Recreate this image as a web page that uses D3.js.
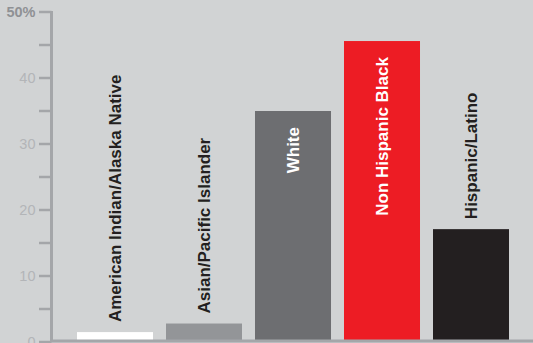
<!DOCTYPE html>
<html>
<head>
<meta charset="utf-8">
<script src="https://cdn.jsdelivr.net/npm/d3@7"></script>
<style>
  html, body { margin: 0; padding: 0; background: #d1d3d4; }
  svg { display: block; font-family: "Liberation Sans", Arial, Helvetica, sans-serif; }
</style>
</head>
<body>
<div id="chart"></div>
<script>
// data
const groups = ['American Indian/Alaska Native', 'Asian/Pacific Islander', 'White', 'Non Hispanic Black', 'Hispanic/Latino'];
const values = [1.5, 2.8, 35.0, 45.6, 17.1];
const colors = ['#ffffff', '#939598', '#6d6e71', '#ed1c24', '#231f20'];
const majorTicks = [0, 10, 20, 30, 40, 50];
const minorTicks = [5, 15, 25, 35, 45];

const width = 533;
const height = 343;

const data = groups.map((g, i) => ({ id: g, val: values[i], color: colors[i] }));

const svg = d3.select('#chart')
  .append('svg')
  .attr('width', width)
  .attr('height', height);

svg.append('rect')
  .attr('width', width)
  .attr('height', height)
  .attr('fill', '#d1d3d4');

const xScale = d3.scaleBand()
  .domain(groups)
  .range([64, 522])
  .padding(0.146);

const yScale = d3.scaleLinear()
  .domain([0, 50])
  .range([342, 12]);

// bars
svg.selectAll('rect.bar')
  .data(data)
  .join('rect')
  .attr('class', 'bar')
  .attr('x', d => xScale(d.id))
  .attr('y', d => yScale(d.val))
  .attr('width', xScale.bandwidth())
  .attr('height', d => yScale(0) - yScale(d.val))
  .attr('fill', d => d.color);

// y axis
const axisX = 51.5;
const yAxis = svg.append('g').attr('class', 'axis y');

yAxis.selectAll('line.tick')
  .data(majorTicks.concat(minorTicks))
  .join('line')
  .attr('class', 'tick')
  .attr('x1', 39)
  .attr('x2', axisX)
  .attr('y1', d => yScale(d))
  .attr('y2', d => yScale(d))
  .attr('stroke', '#a4a6a9')
  .attr('stroke-width', 2.5);

yAxis.append('line')
  .attr('x1', axisX)
  .attr('x2', axisX)
  .attr('y1', yScale(50) - 1)
  .attr('y2', yScale(0))
  .attr('stroke', '#a4a6a9')
  .attr('stroke-width', 3);

yAxis.selectAll('text')
  .data(majorTicks)
  .join('text')
  .attr('x', 35.5)
  .attr('y', d => yScale(d))
  .attr('dy', '0.36em')
  .attr('text-anchor', 'end')
  .attr('font-size', 14.5)
  .attr('font-weight', d => d === 50 ? 'bold' : 'normal')
  .attr('fill', d => d === 50 ? '#8f9194' : '#b3b5b8')
  .text(d => d === 50 ? d + '%' : d);

// baseline
svg.append('line')
  .attr('x1', axisX - 1.5)
  .attr('x2', width)
  .attr('y1', 341)
  .attr('y2', 341)
  .attr('stroke', '#a4a6a9')
  .attr('stroke-width', 3);

// rotated labels: inside tall bars, above the short ones
svg.selectAll('text.label')
  .data(data)
  .join('text')
  .attr('class', 'label')
  .attr('transform', d => {
    const cx = xScale(d.id) + xScale.bandwidth() / 2;
    const inside = d.val > 30;
    const y = inside ? yScale(d.val) + 16 : yScale(d.val) - 10;
    return `translate(${cx},${y}) rotate(-90)`;
  })
  .attr('dy', '0.35em')
  .attr('text-anchor', d => d.val > 30 ? 'end' : 'start')
  .attr('font-size', 17)
  .attr('font-weight', 'bold')
  .attr('fill', d => d.val > 30 ? '#ffffff' : '#231f20')
  .text(d => d.id);
</script>
</body>
</html>
